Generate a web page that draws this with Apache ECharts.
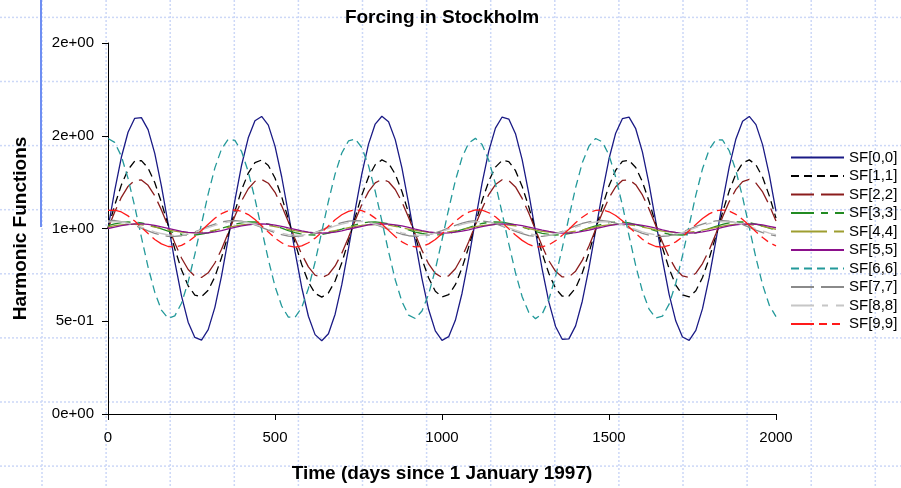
<!DOCTYPE html>
<html>
<head>
<meta charset="utf-8">
<script src="https://cdn.jsdelivr.net/npm/echarts@6/dist/echarts.min.js"></script>
<style>
  html, body { margin: 0; padding: 0; background: #ffffff; }
  #chart { width: 901px; height: 488px; }
</style>
</head>
<body>
<div id="chart"></div>
<script>
// Sample days (every 20 days since 1 January 1997)
const days = [0,20,40,60,80,100,120,140,160,180,200,220,240,260,280,300,320,340,360,380,
  400,420,440,460,480,500,520,540,560,580,600,620,640,660,680,700,720,740,760,780,
  800,820,840,860,880,900,920,940,960,980,1000,1020,1040,1060,1080,1100,1120,1140,1160,1180,
  1200,1220,1240,1260,1280,1300,1320,1340,1360,1380,1400,1420,1440,1460,1480,1500,1520,1540,1560,1580,
  1600,1620,1640,1660,1680,1700,1720,1740,1760,1780,1800,1820,1840,1860,1880,1900,1920,1940,1960,1980,2000];

const seriesNames = ['SF[0,0]','SF[1,1]','SF[2,2]','SF[3,3]','SF[4,4]','SF[5,5]','SF[6,6]','SF[7,7]','SF[8,8]','SF[9,9]'];

const yTicks = [0, 0.5, 1, 1.5, 2];
const xTicks = [0, 500, 1000, 1500, 2000];

const sf00 = [1.000,1.204,1.384,1.519,1.594,1.598,1.533,1.405,1.229,1.027,0.822,0.637,0.495,0.413,0.398,0.455,0.575,0.745,0.946,1.152,
  1.341,1.489,1.581,1.604,1.557,1.444,1.279,1.082,0.875,0.682,0.527,0.428,0.395,0.433,0.538,0.697,0.891,1.099,1.294,1.455,
  1.563,1.605,1.575,1.479,1.327,1.136,0.929,0.730,0.563,0.448,0.397,0.417,0.505,0.651,0.838,1.044,1.245,1.417,1.541,1.601,
  1.590,1.511,1.371,1.188,0.983,0.780,0.603,0.472,0.403,0.405,0.475,0.608,0.786,0.990,1.194,1.376,1.514,1.592,1.600,1.538,
  1.413,1.239,1.038,0.832,0.645,0.501,0.415,0.397,0.451,0.568,0.736,0.935,1.142,1.332,1.483,1.578,1.604,1.560,1.451,1.289,1.092];

const sf11 = [1.000,1.125,1.235,1.317,1.363,1.366,1.326,1.248,1.140,1.017,0.891,0.778,0.691,0.641,0.632,0.667,0.740,0.844,0.967,1.093,
  1.208,1.299,1.355,1.369,1.340,1.272,1.171,1.050,0.923,0.806,0.711,0.650,0.630,0.653,0.717,0.815,0.933,1.060,1.180,1.278,
  1.344,1.370,1.352,1.293,1.200,1.083,0.956,0.835,0.733,0.662,0.631,0.643,0.697,0.787,0.901,1.027,1.150,1.255,1.331,1.367,
  1.361,1.312,1.227,1.115,0.990,0.866,0.757,0.677,0.635,0.636,0.679,0.760,0.869,0.994,1.119,1.230,1.314,1.362,1.367,1.329,
  1.252,1.146,1.023,0.897,0.783,0.695,0.642,0.631,0.664,0.736,0.839,0.960,1.087,1.203,1.295,1.353,1.370,1.343,1.276,1.176,1.056];

const sf22 = [1.000,1.089,1.168,1.227,1.260,1.262,1.233,1.177,1.100,1.012,0.922,0.841,0.779,0.743,0.736,0.761,0.814,0.888,0.976,1.067,
  1.149,1.214,1.254,1.264,1.244,1.195,1.122,1.036,0.945,0.861,0.793,0.749,0.735,0.752,0.798,0.867,0.952,1.043,1.129,1.199,
  1.246,1.265,1.252,1.210,1.143,1.059,0.969,0.882,0.809,0.758,0.736,0.745,0.783,0.847,0.929,1.019,1.107,1.183,1.237,1.263,
  1.258,1.224,1.162,1.082,0.993,0.904,0.826,0.769,0.739,0.739,0.770,0.828,0.906,0.995,1.085,1.165,1.225,1.259,1.263,1.236,
  1.181,1.105,1.016,0.926,0.845,0.781,0.744,0.736,0.759,0.811,0.884,0.972,1.062,1.145,1.211,1.253,1.265,1.245,1.197,1.126,1.040];

const sf33 = [1.015,1.025,1.032,1.035,1.034,1.030,1.021,1.010,0.998,0.986,0.977,0.969,0.965,0.965,0.970,0.977,0.989,1.001,1.012,1.023,
  1.030,1.035,1.035,1.031,1.023,1.013,1.002,0.989,0.978,0.970,0.966,0.965,0.968,0.975,0.986,0.997,1.009,1.020,1.029,1.034,
  1.036,1.032,1.025,1.016,1.004,0.992,0.981,0.973,0.967,0.965,0.967,0.973,0.983,0.994,1.005,1.017,1.027,1.033,1.036,1.034,
  1.028,1.019,1.008,0.996,0.984,0.974,0.968,0.965,0.966,0.972,0.979,0.990,1.003,1.014,1.024,1.032,1.035,1.034,1.030,1.021,
  1.011,0.999,0.987,0.977,0.969,0.966,0.965,0.969,0.977,0.988,1.000,1.012,1.022,1.031,1.035,1.035,1.031,1.024,1.014,1.002,0.990];

const sf44 = [1.008,1.015,1.019,1.022,1.023,1.020,1.015,1.008,1.001,0.993,0.986,0.981,0.978,0.978,0.980,0.984,0.991,0.998,1.006,1.013,
  1.019,1.022,1.022,1.021,1.016,1.010,1.003,0.995,0.988,0.982,0.979,0.977,0.979,0.983,0.989,0.996,1.004,1.011,1.017,1.021,
  1.023,1.021,1.018,1.012,1.004,0.997,0.990,0.984,0.979,0.978,0.978,0.982,0.988,0.995,1.002,1.010,1.016,1.020,1.023,1.022,
  1.018,1.014,1.007,0.999,0.991,0.985,0.980,0.978,0.978,0.980,0.986,0.992,1.000,1.008,1.015,1.019,1.022,1.023,1.020,1.015,
  1.008,1.001,0.993,0.986,0.982,0.978,0.978,0.980,0.984,0.991,0.998,1.006,1.013,1.019,1.022,1.022,1.021,1.016,1.011,1.003,0.995];

const sf55 = [1.000,1.008,1.016,1.021,1.025,1.025,1.022,1.017,1.009,1.001,0.993,0.985,0.979,0.976,0.975,0.977,0.982,0.989,0.998,1.006,
  1.014,1.020,1.024,1.025,1.023,1.018,1.012,1.003,0.995,0.987,0.980,0.976,0.975,0.977,0.981,0.987,0.996,1.004,1.012,1.019,
  1.023,1.025,1.024,1.020,1.014,1.006,0.997,0.989,0.982,0.977,0.975,0.976,0.980,0.986,0.993,1.002,1.010,1.017,1.022,1.025,
  1.024,1.021,1.015,1.008,0.999,0.991,0.984,0.978,0.975,0.975,0.978,0.984,0.991,1.000,1.008,1.016,1.021,1.024,1.025,1.022,
  1.017,1.010,1.002,0.993,0.985,0.979,0.976,0.975,0.977,0.982,0.989,0.997,1.006,1.014,1.020,1.024,1.025,1.023,1.019,1.012,1.004];

const sf66 = [1.485,1.464,1.390,1.270,1.119,0.953,0.792,0.657,0.560,0.516,0.529,0.597,0.712,0.861,1.025,1.187,1.327,1.429,1.481,1.475,
  1.415,1.305,1.160,0.996,0.833,0.688,0.582,0.522,0.521,0.574,0.677,0.819,0.982,1.147,1.294,1.407,1.472,1.483,1.436,1.339,
  1.201,1.040,0.875,0.724,0.606,0.533,0.515,0.555,0.646,0.779,0.938,1.105,1.258,1.382,1.461,1.486,1.453,1.368,1.240,1.084,
  0.917,0.761,0.632,0.547,0.514,0.539,0.618,0.741,0.894,1.060,1.220,1.354,1.444,1.485,1.467,1.396,1.277,1.126,0.961,0.800,
  0.662,0.565,0.518,0.527,0.592,0.705,0.853,1.017,1.180,1.322,1.426,1.479,1.477,1.419,1.312,1.169,1.005,0.841,0.696,0.586,0.525];

const sf77 = [1.042,1.043,1.037,1.029,1.016,1.002,0.987,0.974,0.964,0.958,0.958,0.961,0.970,0.982,0.996,1.011,1.024,1.035,1.041,1.043,
  1.040,1.031,1.020,1.006,0.991,0.977,0.967,0.959,0.957,0.960,0.968,0.978,0.993,1.008,1.021,1.032,1.040,1.042,1.041,1.034,
  1.022,1.009,0.995,0.980,0.969,0.961,0.957,0.958,0.965,0.976,0.989,1.003,1.017,1.029,1.038,1.043,1.041,1.036,1.026,1.013,
  0.999,0.984,0.972,0.962,0.958,0.958,0.963,0.972,0.985,0.999,1.014,1.027,1.036,1.042,1.043,1.038,1.029,1.017,1.002,0.988,
  0.974,0.964,0.958,0.958,0.961,0.969,0.981,0.996,1.011,1.023,1.035,1.041,1.043,1.039,1.031,1.021,1.006,0.991,0.978,0.967,0.960];

const sf88 = [1.035,1.037,1.035,1.028,1.019,1.007,0.994,0.982,0.973,0.966,0.963,0.965,0.971,0.980,0.992,1.004,1.017,1.027,1.034,1.037,
  1.036,1.031,1.022,1.010,0.997,0.985,0.975,0.967,0.964,0.964,0.969,0.978,0.988,1.001,1.014,1.024,1.032,1.037,1.037,1.032,
  1.024,1.013,1.000,0.989,0.977,0.969,0.964,0.964,0.967,0.975,0.985,0.997,1.010,1.022,1.031,1.036,1.037,1.033,1.027,1.016,
  1.004,0.991,0.979,0.971,0.965,0.963,0.966,0.973,0.982,0.994,1.007,1.019,1.029,1.035,1.037,1.034,1.028,1.019,1.007,0.995,
  0.982,0.973,0.966,0.963,0.965,0.970,0.979,0.991,1.004,1.016,1.027,1.034,1.037,1.036,1.031,1.021,1.011,0.998,0.986,0.975,0.967];

const sf99 = [1.098,1.099,1.089,1.068,1.040,1.006,0.973,0.941,0.917,0.903,0.900,0.909,0.928,0.957,0.989,1.023,1.055,1.080,1.096,1.100,
  1.093,1.075,1.048,1.015,0.981,0.948,0.923,0.906,0.900,0.906,0.923,0.948,0.980,1.014,1.047,1.074,1.092,1.100,1.096,1.081,
  1.056,1.024,0.990,0.957,0.928,0.909,0.901,0.903,0.917,0.941,0.972,1.006,1.039,1.068,1.088,1.100,1.099,1.085,1.063,1.033,
  0.998,0.965,0.936,0.914,0.901,0.901,0.912,0.934,0.963,0.996,1.031,1.061,1.085,1.098,1.100,1.090,1.070,1.042,1.008,0.974,
  0.942,0.918,0.903,0.900,0.909,0.928,0.955,0.988,1.022,1.054,1.079,1.095,1.100,1.094,1.076,1.049,1.017,0.982,0.951,0.924,0.906];

const seriesValues = [sf00, sf11, sf22, sf33, sf44, sf55, sf66, sf77, sf88, sf99];

// Line appearance for each harmonic
const lineStyles = [
  { color: '#1a1a85', type: 'solid' },
  { color: '#000000', type: [8, 5] },
  { color: '#8b1c1c', type: [23, 7] },
  { color: '#228b22', type: [23, 7, 7, 7] },
  { color: '#9e9e30', type: [36, 7, 10, 7] },
  { color: '#8b108b', type: 'solid' },
  { color: '#23999a', type: [8, 5] },
  { color: '#8a8a8a', type: [23, 7] },
  { color: '#c6c6c6', type: [23, 8, 6, 8] },
  { color: '#ff1a1a', type: [23, 5, 8, 5, 8, 5] }
];

function expLabel(v) {
  return v.toExponential(0).replace(/e([+-])(\d)$/, 'e$10$2');
}

// Light graph-paper pattern behind the whole figure
const paper = [];
const paperStyle = { stroke: '#ccd8f7', lineWidth: 1.5, lineDash: [2, 2] };
for (let x = 42; x < 901; x += 64.1) {
  paper.push({ type: 'line', silent: true, z: -10,
    shape: { x1: x, y1: 0, x2: x, y2: 488 }, style: paperStyle });
}
for (let y = 17.4; y < 488; y += 64.1) {
  paper.push({ type: 'line', silent: true, z: -10,
    shape: { x1: 0, y1: y, x2: 901, y2: y }, style: paperStyle });
}
paper.push({ type: 'line', silent: true, z: -5,
  shape: { x1: 41, y1: 0, x2: 41, y2: 227 },
  style: { stroke: '#6e8ef2', lineWidth: 2 } });

const font = 'Liberation Sans, Arial, Helvetica, sans-serif';

const chart = echarts.init(document.getElementById('chart'), null, { renderer: 'canvas' });
chart.setOption({
  animation: false,
  backgroundColor: '#ffffff',
  graphic: paper,
  title: {
    text: 'Forcing in Stockholm',
    left: 442,
    textAlign: 'center',
    top: 8,
    padding: 0,
    textStyle: { fontFamily: font, fontSize: 19, fontWeight: 'bold', color: '#000' }
  },
  grid: { left: 108, right: 125, top: 43, bottom: 73, containLabel: false },
  legend: {
    orient: 'vertical',
    left: 790,
    top: 150,
    padding: 0,
    itemWidth: 53,
    itemHeight: 14,
    itemGap: 3.5,
    itemStyle: { opacity: 0 },
    textStyle: { fontFamily: font, fontSize: 15, color: '#000' },
    data: seriesNames
  },
  xAxis: {
    type: 'value',
    min: xTicks[0],
    max: xTicks[xTicks.length - 1],
    interval: xTicks[1] - xTicks[0],
    name: 'Time (days since 1 January 1997)',
    nameLocation: 'middle',
    nameGap: 50,
    nameTextStyle: { fontFamily: font, fontSize: 19, fontWeight: 'bold', color: '#000' },
    axisLine: { show: true, onZero: false, lineStyle: { color: '#000', width: 1 } },
    axisTick: { show: true, inside: false, length: 6, lineStyle: { color: '#000' } },
    axisLabel: { margin: 16, fontFamily: font, fontSize: 15, color: '#000',
      formatter: v => String(v) },
    splitLine: { show: false }
  },
  yAxis: {
    type: 'value',
    min: yTicks[0],
    max: yTicks[yTicks.length - 1],
    interval: yTicks[1] - yTicks[0],
    name: 'Harmonic Functions',
    nameLocation: 'middle',
    nameGap: 78,
    nameTextStyle: { fontFamily: font, fontSize: 19, fontWeight: 'bold', color: '#000' },
    axisLine: { show: true, lineStyle: { color: '#000', width: 1 } },
    axisTick: { show: true, inside: false, length: 6, lineStyle: { color: '#000' } },
    axisLabel: { margin: 14, fontFamily: font, fontSize: 15, color: '#000', formatter: expLabel },
    splitLine: { show: false }
  },
  series: seriesNames.map((name, k) => ({
    name: name,
    type: 'line',
    symbol: 'none',
    showSymbol: false,
    smooth: false,
    lineStyle: { color: lineStyles[k].color, type: lineStyles[k].type, width: 1.3 },
    itemStyle: { color: lineStyles[k].color },
    data: days.map((d, i) => [d, seriesValues[k][i]])
  }))
});
</script>
</body>
</html>
